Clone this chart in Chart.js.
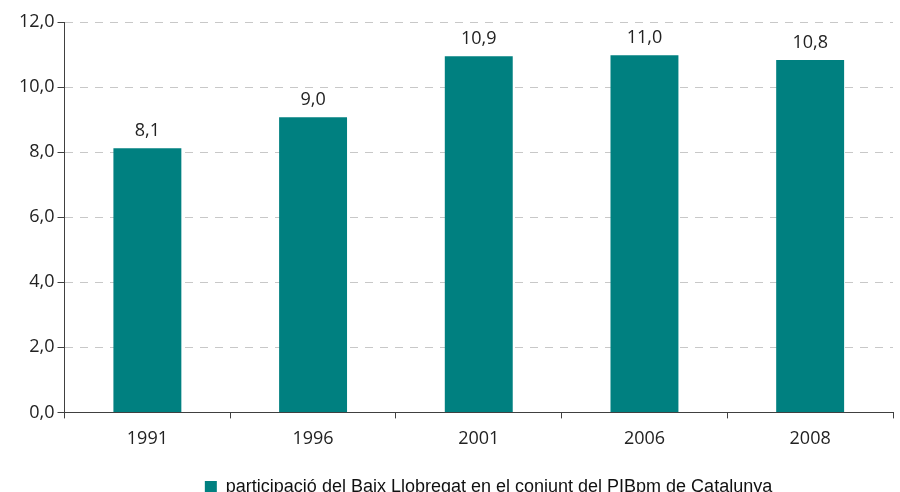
<!DOCTYPE html>
<html><head><meta charset="utf-8">
<script src="https://cdn.jsdelivr.net/npm/chart.js@4.4.0/dist/chart.umd.min.js"></script>
<style>html,body{margin:0;padding:0;background:#fff;}#wrap{width:900px;height:492px;}</style>
</head><body><div id="wrap"><canvas id="c" width="900" height="492"></canvas></div>
<script>
const categories = ["1991", "1996", "2001", "2006", "2008"];
const values = [8.12, 9.07, 10.95, 10.98, 10.83];
const valueLabels = ["8,1", "9,0", "10,9", "11,0", "10,8"];
const seriesName = "participació del Baix Llobregat en el conjunt del PIBpm de Catalunya";
const yTicks = [0, 2, 4, 6, 8, 10, 12];

const labelPlugin = {
  id: 'vlabels',
  afterDatasetsDraw(chart) {
    const ctx = chart.ctx;
    const meta = chart.getDatasetMeta(0);
    ctx.save();
    ctx.font = '18px "Open Sans"';
    ctx.fillStyle = '#222';
    ctx.textAlign = 'center';
    ctx.textBaseline = 'bottom';
    meta.data.forEach((bar, i) => {
      ctx.fillText(valueLabels[i], bar.x, bar.y - 8);
    });
    ctx.restore();
  }
};

const legendShift = {
  id: 'legendShift',
  afterLayout(chart) {
    const lg = chart.legend;
    if (lg) { lg.left += 34; lg.right += 34; }
  }
};

new Chart(document.getElementById('c'), {
  type: 'bar',
  data: {
    labels: categories,
    datasets: [{
      label: seriesName,
      data: values,
      backgroundColor: '#008080',
      barPercentage: 0.41,
      categoryPercentage: 1.0
    }]
  },
  options: {
    responsive: false,
    animation: false,
    layout: { padding: { top: 22, right: 7, left: 16, bottom: -14 } },
    plugins: {
      legend: {
        position: 'bottom',
        labels: {
          boxWidth: 12, boxHeight: 12, padding: 18,
          color: '#111',
          font: { family: '"Liberation Sans", Arial', size: 18 }
        }
      },
      tooltip: { enabled: false }
    },
    scales: {
      x: {
        grid: { offset: true, drawOnChartArea: false, drawTicks: true, tickLength: 6, tickColor: '#404040' },
        border: { color: '#404040', width: 1 },
        ticks: { color: '#222', font: { family: '"Open Sans"', size: 18 }, padding: 10 }
      },
      y: {
        min: 0, max: 12,
        afterBuildTicks(axis) { axis.ticks = yTicks.map(v => ({ value: v })); },
        grid: { color: '#c8c8c8', tickLength: 7, tickColor: '#404040', tickBorderDash: [] },
        border: { color: '#404040', width: 1, dash: [8, 7] },
        ticks: {
          color: '#222', font: { family: '"Open Sans"', size: 18 }, padding: 3,
          callback: v => v.toFixed(1).replace('.', ',')
        }
      }
    }
  },
  plugins: [labelPlugin, legendShift]
});
</script></body></html>
